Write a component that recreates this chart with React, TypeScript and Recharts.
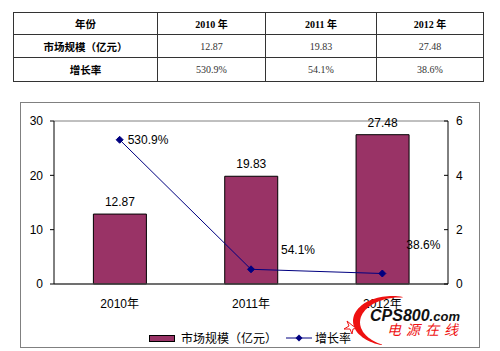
import React from 'react';
import { ComposedChart, Bar, Line, XAxis, YAxis, Legend, LabelList, ReferenceLine } from 'recharts';

const years = ['2010年', '2011年', '2012年'];
const tableYears = ['2010 年', '2011 年', '2012 年'];
const marketSize = [12.87, 19.83, 27.48];
const growthRate = [5.309, 0.541, 0.386];
const growthLabels = ['530.9%', '54.1%', '38.6%'];
const leftTicks = [0, 10, 20, 30];
const rightTicks = [0, 2, 4, 6];
const boundaryTicks = [1, 2];
const seriesNames = ['市场规模（亿元）', '增长率'];
const rowHeaders = ['年份', '市场规模（亿元）', '增长率'];

const data = years.map((y, i) => ({ year: y, size: marketSize[i], growth: growthRate[i] }));

// label placement offsets (style, not data)
const growthLabelOffsets = [[8, 0], [30, -20], [24, -29]];

const FONT = '"Liberation Sans", Arial, "Noto Sans CJK SC", sans-serif';
const BAR = '#993366';
const LINE = '#000080';

// decorative watermark crescent (not data)
function crescentPath(): string {
  const cx = 392, cy = 321, rx = 39, ry = 25;
  const outer: string[] = [];
  const inner: string[] = [];
  const n = 48;
  for (let k = 0; k <= n; k++) {
    const f = k / n;
    const th = ((-74 - f * 181) * Math.PI) / 180;
    const t = 0.8 + 6.5 * Math.sin(Math.PI * f);
    outer.push(`${(cx + rx * Math.cos(th)).toFixed(1)},${(cy + ry * Math.sin(th)).toFixed(1)}`);
    inner.unshift(`${(cx + (rx - t) * Math.cos(th)).toFixed(1)},${(cy + (ry - t * 0.75) * Math.sin(th)).toFixed(1)}`);
  }
  return `M ${outer.join(' L ')} L ${inner.join(' L ')} Z`;
}

const Diamond = (props: any) => {
  const { cx, cy } = props;
  if (cx == null || cy == null) return null;
  const r = 3.5;
  return <polygon points={`${cx},${cy - r} ${cx + r},${cy} ${cx},${cy + r} ${cx - r},${cy}`} fill={LINE} stroke={LINE} />;
};

const GrowthLabel = (props: any) => {
  const { x, y, index } = props;
  const [dx, dy] = growthLabelOffsets[index] || [0, 0];
  return (
    <text x={x + dx} y={y + dy} dy="0.36em" textAnchor="start" fontSize={12} fontFamily={FONT} fill="#000">
      {growthLabels[index]}
    </text>
  );
};

const renderLegend = (props: any) => {
  const payload = props.payload || [];
  const sizeEntry = payload.find((p: any) => p.dataKey === 'size');
  const growthEntry = payload.find((p: any) => p.dataKey === 'growth');
  return (
    <div style={{ display: 'flex', justifyContent: 'center', alignItems: 'center', width: 500, height: 16, fontFamily: '"Noto Sans CJK SC", sans-serif', fontSize: 12, color: '#000' }}>
      <span style={{ display: 'inline-block', width: 26, height: 7, background: BAR, border: '1px solid #000', boxSizing: 'border-box' }} />
      <span style={{ marginLeft: 6, lineHeight: '16px' }}>{sizeEntry ? sizeEntry.value : seriesNames[0]}</span>
      <svg width={26} height={10} style={{ marginLeft: 9 }}>
        <line x1={0} y1={5} x2={26} y2={5} stroke={LINE} strokeWidth={1} />
        <polygon points="13,1.5 16.5,5 13,8.5 9.5,5" fill={LINE} />
      </svg>
      <span style={{ marginLeft: 3, lineHeight: '16px' }}>{growthEntry ? growthEntry.value : seriesNames[1]}</span>
    </div>
  );
};

const cellBase: React.CSSProperties = {
  border: '1px solid #333',
  textAlign: 'center',
  verticalAlign: 'middle',
  padding: 0,
  fontSize: 10,
  color: '#333',
};

const headCell: React.CSSProperties = {
  ...cellBase,
  fontFamily: '"Noto Sans CJK SC", sans-serif',
  fontWeight: 700,
  fontSize: 10.5,
  color: '#000',
};

export default function App() {
  const rowHeights = [22, 23, 24];
  return (
    <div style={{ position: 'absolute', left: 0, top: 0, width: 500, height: 351, background: '#fff', overflow: 'hidden' }}>
      <table
        style={{
          position: 'absolute', left: 13, top: 12, width: 470, borderCollapse: 'collapse', tableLayout: 'fixed',
          border: '1px solid #222',
        }}
      >
        <colgroup>
          <col style={{ width: 144 }} />
          <col style={{ width: 108 }} />
          <col style={{ width: 111 }} />
          <col style={{ width: 107 }} />
        </colgroup>
        <tbody>
          <tr style={{ height: rowHeights[0] }}>
            <td style={headCell}>{rowHeaders[0]}</td>
            {tableYears.map((y) => (
              <td key={y} style={{ ...cellBase, fontFamily: '"Liberation Serif", "Noto Sans CJK SC", serif', fontWeight: 700, color: '#000' }}>{y}</td>
            ))}
          </tr>
          <tr style={{ height: rowHeights[1] }}>
            <td style={headCell}>{rowHeaders[1]}</td>
            {marketSize.map((v, i) => (
              <td key={i} style={{ ...cellBase, fontFamily: '"Liberation Serif", serif' }}>{v.toFixed(2)}</td>
            ))}
          </tr>
          <tr style={{ height: rowHeights[2] }}>
            <td style={headCell}>{rowHeaders[2]}</td>
            {growthLabels.map((v, i) => (
              <td key={i} style={{ ...cellBase, fontFamily: '"Liberation Serif", serif' }}>{v}</td>
            ))}
          </tr>
        </tbody>
      </table>

      <div style={{ position: 'absolute', left: 20, top: 102, width: 460, height: 246, border: '1px solid #808080', boxSizing: 'border-box' }} />

      <div style={{ position: 'absolute', left: 0, top: 0 }}>
        <ComposedChart
          width={500}
          height={351}
          data={data}
          margin={{ top: 121, right: 22, left: 14, bottom: 37 }}
          barCategoryGap="30%"
        >
          <XAxis
            dataKey="year"
            xAxisId={0}
            tickLine={false}
            axisLine={{ stroke: '#404040', strokeWidth: 1.5 }}
            tickSize={0}
            tickMargin={15}
            height={30}
            tick={{ fontSize: 12, fontFamily: FONT, fill: '#000' }}
          />
          <XAxis
            xAxisId="b"
            type="number"
            domain={[0, years.length]}
            ticks={boundaryTicks}
            allowDataOverflow
            mirror
            height={0}
            axisLine={false}
            tickSize={4}
            tickLine={{ stroke: '#000' }}
            tickFormatter={() => ''}
          />
          <YAxis
            yAxisId="left"
            domain={[0, 30]}
            ticks={leftTicks}
            width={40}
            axisLine={{ stroke: '#000' }}
            tickLine={{ stroke: '#000' }}
            tickSize={4}
            tickMargin={7}
            tick={{ fontSize: 12, fontFamily: FONT, fill: '#000' }}
          />
          <YAxis
            yAxisId="right"
            orientation="right"
            domain={[0, 6]}
            ticks={rightTicks}
            width={30}
            axisLine={{ stroke: '#000' }}
            tickLine={{ stroke: '#000' }}
            tickSize={-4}
            tickMargin={12}
            tick={{ fontSize: 12, fontFamily: FONT, fill: '#000' }}
          />
          <ReferenceLine yAxisId="left" y={30} stroke="#808080" strokeWidth={1} />
          <Bar dataKey="size" name={seriesNames[0]} yAxisId="left" fill={BAR} stroke="#000" strokeWidth={1} isAnimationActive={false}>
            <LabelList dataKey="size" position="top" offset={8} style={{ fontSize: 12, fontFamily: FONT, fill: '#000' }} formatter={(v: any) => Number(v).toFixed(2)} />
          </Bar>
          <Line
            dataKey="growth"
            name={seriesNames[1]}
            yAxisId="right"
            stroke={LINE}
            strokeWidth={1}
            dot={<Diamond />}
            activeDot={false}
            isAnimationActive={false}
          >
            <LabelList dataKey="growth" content={<GrowthLabel />} />
          </Line>
          <Legend
            verticalAlign="middle"
            align="center"
            content={renderLegend}
            wrapperStyle={{ top: 330, left: 0, width: 500, height: 16 }}
          />
        </ComposedChart>
      </div>

      <svg width={500} height={351} style={{ position: 'absolute', left: 0, top: 0, pointerEvents: 'none' }}>
        <path d={crescentPath()} fill="#ee1111" />
        <path d="M 347 321 L 349 326 L 344 329 L 350 329 L 352 334 L 353 329 L 358 328 L 353 326 Z" fill="none" stroke="#ee1111" strokeWidth={1} />
      </svg>
      <div style={{ position: 'absolute', left: 370, top: 306, fontFamily: FONT, fontWeight: 700, fontStyle: 'italic', fontSize: 16, color: '#111', lineHeight: '20px', whiteSpace: 'nowrap' }}>
        CPS800<span style={{ fontSize: 13 }}>.com</span>
      </div>
      <div style={{ position: 'absolute', left: 387, top: 320, fontFamily: '"Noto Sans CJK SC", sans-serif', fontStyle: 'italic', fontSize: 14, color: '#ee1111', lineHeight: '18px', letterSpacing: 5, whiteSpace: 'nowrap' }}>
        电源在线
      </div>
    </div>
  );
}
